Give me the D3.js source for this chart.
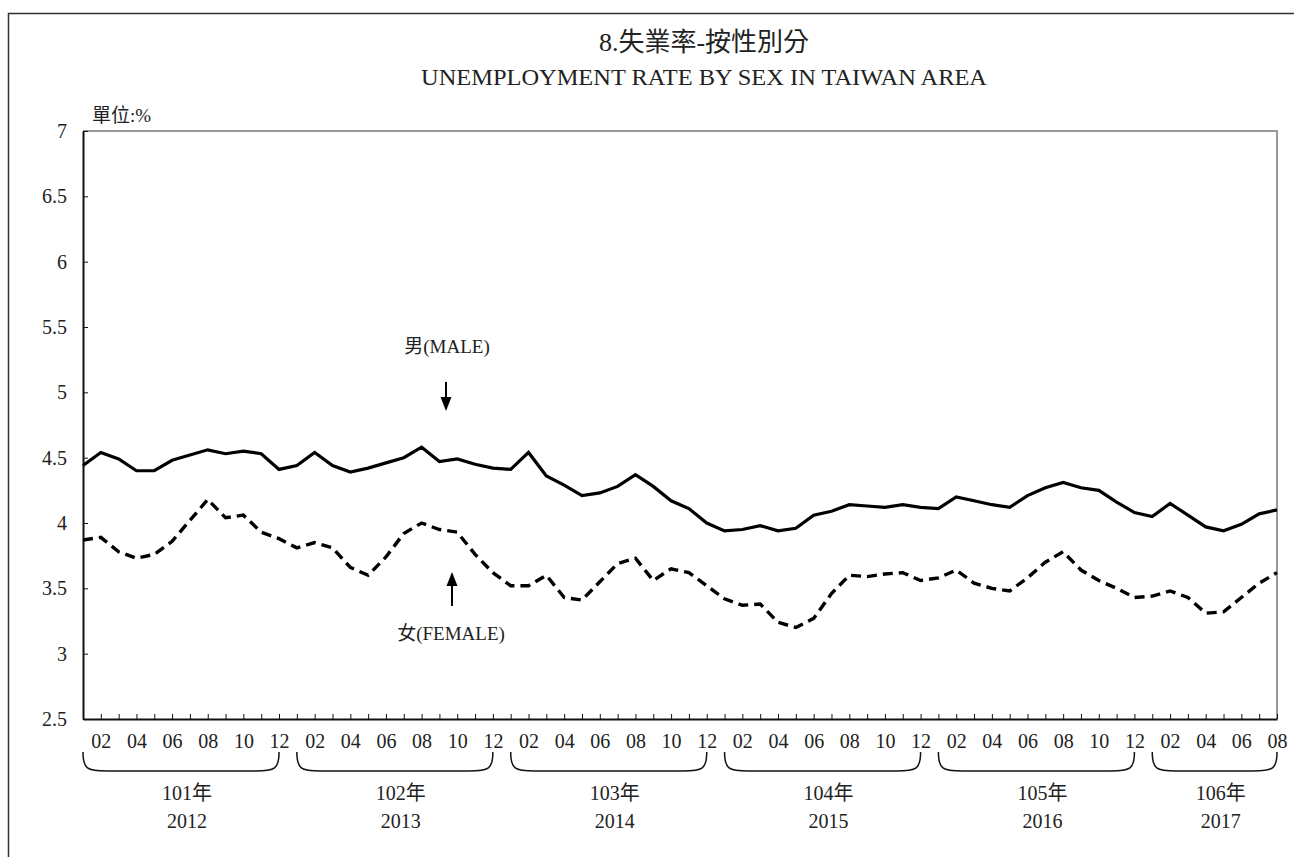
<!DOCTYPE html>
<head>
  <meta charset="utf-8">
  <title>Unemployment rate by sex</title>
  <script src="https://d3js.org/d3.v7.min.js"></script>
  <style>
    body { margin: 0; background: #fff; }
    text {
      font-family: "Liberation Serif", "Noto Sans CJK TC", serif;
      fill: #222;
    }
    .axis path, .axis line { stroke: #111; }
    .axis text { font-size: 20px; fill: #222; }
  </style>
</head>

<body>
  <script>
    // months of each year, first point is Jan 2012, last is Aug 2017
    var yearsRoc = ["101年", "102年", "103年", "104年", "105年", "106年"],
        yearsAd = ["2012", "2013", "2014", "2015", "2016", "2017"],
        monthsPerYear = [12, 12, 12, 12, 12, 8],
        yTicks = [2.5, 3, 3.5, 4, 4.5, 5, 5.5, 6, 6.5, 7];

    var male = [
      4.44, 4.54, 4.49, 4.40, 4.40, 4.48, 4.52, 4.56, 4.53, 4.55, 4.53, 4.41,
      4.44, 4.54, 4.44, 4.39, 4.42, 4.46, 4.50, 4.58, 4.47, 4.49, 4.45, 4.42,
      4.41, 4.54, 4.36, 4.29, 4.21, 4.23, 4.28, 4.37, 4.28, 4.17, 4.11, 4.00,
      3.94, 3.95, 3.98, 3.94, 3.96, 4.06, 4.09, 4.14, 4.13, 4.12, 4.14, 4.12,
      4.11, 4.20, 4.17, 4.14, 4.12, 4.21, 4.27, 4.31, 4.27, 4.25, 4.16, 4.08,
      4.05, 4.15, 4.06, 3.97, 3.94, 3.99, 4.07, 4.10
    ];
    var female = [
      3.87, 3.89, 3.78, 3.73, 3.76, 3.86, 4.02, 4.18, 4.04, 4.06, 3.93, 3.88,
      3.81, 3.85, 3.81, 3.66, 3.60, 3.74, 3.92, 4.00, 3.95, 3.93, 3.76, 3.62,
      3.52, 3.52, 3.60, 3.43, 3.41, 3.55, 3.69, 3.73, 3.56, 3.65, 3.62, 3.52,
      3.42, 3.37, 3.38, 3.24, 3.20, 3.27, 3.46, 3.60, 3.59, 3.61, 3.62, 3.56,
      3.58, 3.64, 3.54, 3.50, 3.48, 3.58, 3.70, 3.78, 3.64, 3.56, 3.50, 3.43,
      3.44, 3.48, 3.43, 3.31, 3.32, 3.43, 3.54, 3.62
    ];

    var width = 1294,
        height = 857,
        plotLeft = 83, plotRight = 1277, plotTop = 131, plotBottom = 719;

    // one key per month, e.g. "2012-01"
    var months = [];
    yearsAd.forEach(function (y, i) {
      for (var m = 1; m <= monthsPerYear[i]; m++) {
        months.push(y + "-" + (m < 10 ? "0" + m : m));
      }
    });

    var svg = d3.select("body").append("svg")
        .attr("width", width)
        .attr("height", height);

    var x = d3.scalePoint().domain(months).range([plotLeft, plotRight]),
        y = d3.scaleLinear().domain([2.5, 7]).range([plotBottom, plotTop]);

    // outer frame, cut off at right and bottom like the source
    svg.append("rect")
      .attr("x", 8.5).attr("y", 13.5)
      .attr("width", 1400).attr("height", 1000)
      .attr("fill", "none")
      .attr("stroke", "#333")
      .attr("stroke-width", 1.5);

    // titles
    svg.append("text")
      .attr("x", 704).attr("y", 51)
      .attr("text-anchor", "middle")
      .style("font-size", "26px")
      .text("8.失業率-按性別分");
    svg.append("text")
      .attr("x", 704).attr("y", 85)
      .attr("text-anchor", "middle")
      .attr("textLength", 566)
      .attr("lengthAdjust", "spacingAndGlyphs")
      .style("font-size", "24px")
      .text("UNEMPLOYMENT RATE BY SEX IN TAIWAN AREA");

    svg.append("text")
      .attr("x", 92).attr("y", 122)
      .style("font-size", "19px")
      .text("單位:%");

    // top and right border of the plot area
    svg.append("path")
      .attr("d", "M" + plotLeft + "," + plotTop + "H" + plotRight + "V" + plotBottom)
      .attr("fill", "none")
      .attr("stroke", "#999")
      .attr("stroke-width", 2);

    svg.append("g")
      .attr("class", "axis")
      .attr("transform", "translate(" + plotLeft + ",0)")
      .call(d3.axisLeft(y)
        .tickValues(yTicks)
        .tickFormat(d3.format("~g"))
        .tickSizeInner(-5)
        .tickSizeOuter(0)
        .tickPadding(16))
      .call(function (g) { g.select(".domain").attr("stroke-width", 2); });

    svg.append("g")
      .attr("class", "axis")
      .attr("transform", "translate(0," + plotBottom + ")")
      .call(d3.axisBottom(x)
        .tickSizeInner(-5)
        .tickSizeOuter(0)
        .tickPadding(15)
        .tickFormat(function (d) {
          var m = +d.slice(5);
          return m % 2 === 0 ? d.slice(5) : "";
        }))
      .call(function (g) { g.select(".domain").attr("stroke-width", 2); });

    // series lines
    var line = d3.line()
      .x(function (d, i) { return x(months[i]); })
      .y(function (d) { return y(d); });

    svg.append("path")
      .datum(male)
      .attr("d", line)
      .attr("fill", "none")
      .attr("stroke", "#000")
      .attr("stroke-width", 3.2)
      .attr("stroke-linejoin", "miter");

    svg.append("path")
      .datum(female)
      .attr("d", line)
      .attr("fill", "none")
      .attr("stroke", "#000")
      .attr("stroke-width", 3.4)
      .attr("stroke-dasharray", "10,6");

    // year braces under the month labels
    var start = 0;
    yearsAd.forEach(function (yr, i) {
      var x0 = x(months[start]),
          x1 = x(months[start + monthsPerYear[i] - 1]),
          y0 = 752, y1 = 771, r = 16;
      start += monthsPerYear[i];

      svg.append("path")
        .attr("d", "M" + x0 + "," + y0
          + "C" + x0 + "," + (y1 - 2) + " " + (x0 + 4) + "," + y1 + " " + (x0 + r + 8) + "," + y1
          + "H" + (x1 - r - 8)
          + "C" + (x1 - 4) + "," + y1 + " " + x1 + "," + (y1 - 2) + " " + x1 + "," + y0)
        .attr("fill", "none")
        .attr("stroke", "#111")
        .attr("stroke-width", 1.5);

      var cx = (x0 + x1) / 2 + 6;
      svg.append("text")
        .attr("x", cx).attr("y", 800)
        .attr("text-anchor", "middle")
        .style("font-size", "20px")
        .text(yearsRoc[i]);
      svg.append("text")
        .attr("x", cx).attr("y", 828)
        .attr("text-anchor", "middle")
        .style("font-size", "20px")
        .text(yr);
    });

    // series labels with arrows
    svg.append("text")
      .attr("x", 447).attr("y", 353)
      .attr("text-anchor", "middle")
      .style("font-size", "19px")
      .text("男(MALE)");
    svg.append("line")
      .attr("x1", 446).attr("y1", 382)
      .attr("x2", 446).attr("y2", 398)
      .attr("stroke", "#000").attr("stroke-width", 2);
    svg.append("path")
      .attr("d", "M440.5,397L451.5,397L446,411Z")
      .attr("fill", "#000");

    svg.append("text")
      .attr("x", 451).attr("y", 640)
      .attr("text-anchor", "middle")
      .style("font-size", "19px")
      .text("女(FEMALE)");
    svg.append("line")
      .attr("x1", 452).attr("y1", 606)
      .attr("x2", 452).attr("y2", 584)
      .attr("stroke", "#000").attr("stroke-width", 2);
    svg.append("path")
      .attr("d", "M446.5,586L457.5,586L452,572Z")
      .attr("fill", "#000");
  </script>
</body>
